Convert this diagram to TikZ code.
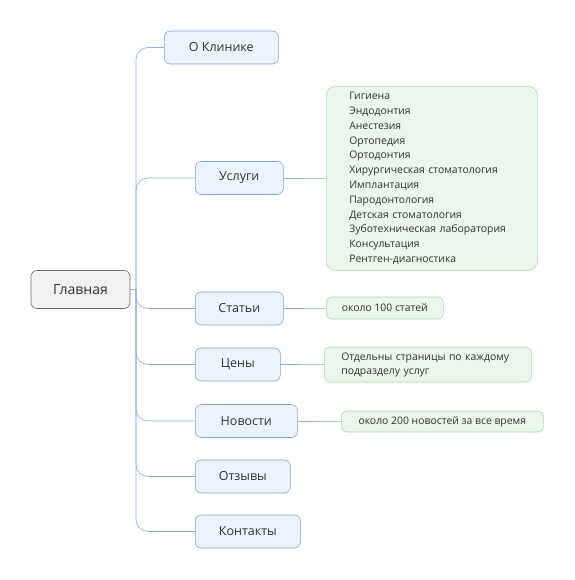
\documentclass[tikz,border=0pt]{standalone}
\usepackage{fontspec}
\setmainfont{Open Sans}
\usetikzlibrary{calc}
\definecolor{bfill}{HTML}{EDF3FC}
\definecolor{bdraw}{HTML}{7DA4D8}
\definecolor{bline}{HTML}{8FB3E0}
\definecolor{gfill}{HTML}{EBF5EC}
\definecolor{gdraw}{HTML}{A6D9AE}
\definecolor{mfill}{HTML}{F1F1F1}
\definecolor{mdraw}{HTML}{6E6E6E}
\definecolor{txt}{HTML}{333333}
\begin{document}
\begin{tikzpicture}[x=1pt,y=-1pt,
  mainbox/.style={draw=mdraw,fill=mfill,rounded corners=6pt,minimum width=99pt,minimum height=38pt,font=\fontsize{14}{16}\selectfont,text=txt,line width=0.6pt},
  subbox/.style={draw=bdraw,fill=bfill,rounded corners=6pt,minimum height=33pt,anchor=west,font=\fontsize{12.5}{14}\selectfont,text=txt,line width=0.6pt},
  notebox/.style={draw=gdraw,fill=gfill,rounded corners=5pt,anchor=west,font=\fontsize{10.4}{14}\selectfont,text=txt,line width=0.6pt},
  conn/.style={draw=bline,line width=0.7pt},
  gconn/.style={draw=gdraw,line width=0.7pt}]
\useasboundingbox (0,0) rectangle (574,580);
\node[mainbox] (main) at (80.5,289.5) {Главная};
\coordinate (t) at (136,289.5);

\node[subbox,minimum width=114pt] (c1) at (164,47.5) {О Клинике};
\node[subbox,minimum width=88pt] (c2) at (195,178) {Услуги};
\node[subbox,minimum width=88pt] (c3) at (195,308.5) {Статьи};
\node[subbox,minimum width=85pt] (c4) at (195,364.5) {Цены};
\node[subbox,minimum width=102pt] (c5) at (195,421) {Новости};
\node[subbox,minimum width=95pt] (c6) at (195,476.5) {Отзывы};
\node[subbox,minimum width=105pt] (c7) at (195,531.5) {Контакты};

\node[notebox,anchor=north west,minimum width=211pt,minimum height=184pt,text width=165pt,inner xsep=23pt,align=left,rounded corners=9pt,font=\fontsize{10.4}{14.8}\selectfont] (n2) at (326,86) {Гигиена\\Эндодонтия\\Анестезия\\Ортопедия\\Ортодонтия\\Хирургическая стоматология\\Имплантация\\Пародонтология\\Детская стоматология\\Зуботехническая лаборатория\\Консультация\\Рентген-диагностика};
\node[notebox,minimum width=117pt,minimum height=22pt] (n3) at (326,308) {около 100 статей};
\node[notebox,minimum width=207pt,minimum height=35pt,text width=173pt,inner xsep=17pt,align=left] (n4) at (324,364.5) {Отдельны страницы по каждому\\подразделу услуг};
\node[notebox,minimum width=202pt,minimum height=21pt] (n5) at (341,421.5) {около 200 новостей за все время};

\draw[conn] (main.east) -- (t);
\foreach \c in {c1,c2,c3,c4,c5,c6,c7}{
  \draw[conn,rounded corners=12pt] (t) |- (\c.west);
}
\foreach \a/\b in {c2/n2,c3/n3,c4/n4,c5/n5}{
  \coordinate (m) at ($(\a.east)!0.5!(\b.west|-\a.east)$);
  \draw[conn] (\a.east) -- (m);
  \draw[gconn] (m) -- (\b.west|-\a.east);
}
\end{tikzpicture}
\end{document}
